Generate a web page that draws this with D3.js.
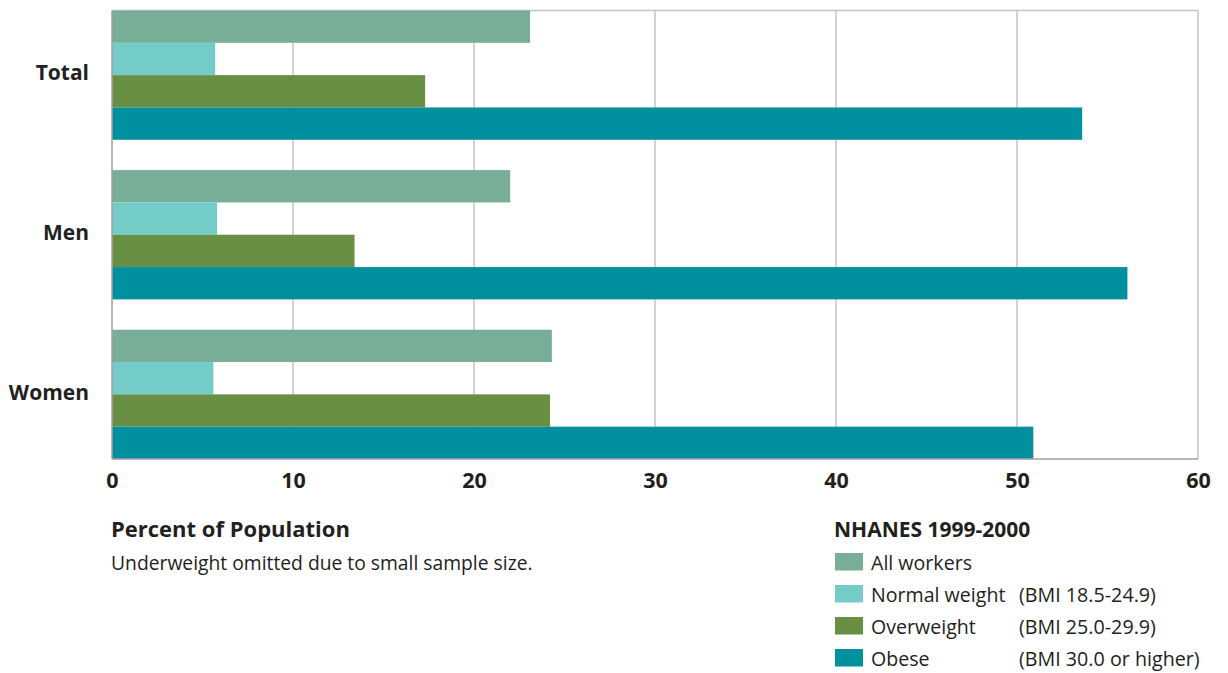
<!DOCTYPE html>
<html><head><meta charset="utf-8">
<script src="https://cdn.jsdelivr.net/npm/d3@7"></script>
<style>
body{margin:0;background:#fff;}
text{font-family:"Open Sans","Noto Sans",sans-serif;fill:#231f20;}
</style></head>
<body><svg id="c" width="1228" height="673"></svg>
<script>
const categories = ["Total", "Men", "Women"];
const seriesNames = ["All workers", "Normal weight", "Overweight", "Obese"];
const seriesNotes = ["", "(BMI 18.5-24.9)", "(BMI 25.0-29.9)", "(BMI 30.0 or higher)"];
const allWorkers = [23.1, 22.0, 24.3];
const normalWeight = [5.7, 5.8, 5.6];
const overweight = [17.3, 13.4, 24.2];
const obese = [53.6, 56.1, 50.9];
const xTicks = [0, 10, 20, 30, 40, 50, 60];
const colors = ["#78ae98", "#74ccc9", "#688f44", "#00909e"];

const seriesValues = [allWorkers, normalWeight, overweight, obese];
const svg = d3.select("#c");
const pL = 112, pR = 1198, pT = 10.5, pB = 459;

const x = d3.scaleLinear().domain([0, 60]).range([pL, pR]);
const y = d3.scaleBand().domain(categories).range([pT, pB]).paddingInner(0.19).paddingOuter(0);
const ys = d3.scaleBand().domain(seriesNames).range([0, y.bandwidth()]);

// grid
svg.append("g").selectAll("line").data(xTicks.slice(1)).join("line")
  .attr("x1", d => x(d)).attr("x2", d => x(d)).attr("y1", pT).attr("y2", pB)
  .attr("stroke", "#c4c4c4").attr("stroke-width", 1.5);
svg.append("line").attr("x1", pL).attr("x2", pR).attr("y1", pT).attr("y2", pT)
  .attr("stroke", "#c4c4c4").attr("stroke-width", 1.5);

// bars
const rows = [];
categories.forEach((c, i) => seriesNames.forEach((s, j) => rows.push({c, s, j, v: seriesValues[j][i]})));
svg.append("g").selectAll("rect").data(rows).join("rect")
  .attr("x", x(0)).attr("y", d => y(d.c) + ys(d.s))
  .attr("width", d => x(d.v) - x(0)).attr("height", ys.bandwidth())
  .attr("fill", d => colors[d.j]);

// axes lines
svg.append("line").attr("x1", pL).attr("x2", pL).attr("y1", pT).attr("y2", pB)
  .attr("stroke", "#a0a0a0").attr("stroke-width", 1.5);
svg.append("line").attr("x1", pL).attr("x2", pR).attr("y1", pB).attr("y2", pB)
  .attr("stroke", "#a0a0a0").attr("stroke-width", 1.5);

// x tick labels
const xAxis = svg.append("g").attr("transform", `translate(0,${pB})`)
  .call(d3.axisBottom(x).tickValues(xTicks).tickSize(0).tickPadding(14).tickFormat(d3.format("d")));
xAxis.select(".domain").remove();
xAxis.selectAll("text").attr("font-size", 21.5).attr("font-weight", 700)
  .attr("font-family", "'Open Sans',sans-serif").attr("fill", "#231f20");

// category labels
const yAxis = svg.append("g").attr("transform", `translate(${pL},0)`)
  .call(d3.axisLeft(y).tickSize(0).tickPadding(23));
yAxis.select(".domain").remove();
yAxis.selectAll("text").attr("font-size", 21).attr("font-weight", 700)
  .attr("font-family", "'Open Sans',sans-serif").attr("fill", "#231f20").attr("dy", "0.25em");

// titles
svg.append("text").attr("x", 111).attr("y", 537).attr("font-size", 22).attr("font-weight", 700)
  .text("Percent of Population");
svg.append("text").attr("x", 111).attr("y", 570).attr("font-size", 19.3)
  .text("Underweight omitted due to small sample size.");

// legend
svg.append("text").attr("x", 834).attr("y", 537).attr("font-size", 21).attr("font-weight", 700)
  .text("NHANES 1999-2000");
const lg = svg.append("g").selectAll("g").data(seriesNames).join("g")
  .attr("transform", (d, i) => `translate(835,${553 + i * 32})`);
lg.append("rect").attr("width", 28).attr("height", 17.5).attr("fill", (d, i) => colors[i]);
lg.append("text").attr("x", 36).attr("y", 17).attr("font-size", 19.6).text(d => d);
lg.append("text").attr("x", 184).attr("y", 17).attr("font-size", 19.7).text((d, i) => seriesNotes[i]);
</script></body></html>
